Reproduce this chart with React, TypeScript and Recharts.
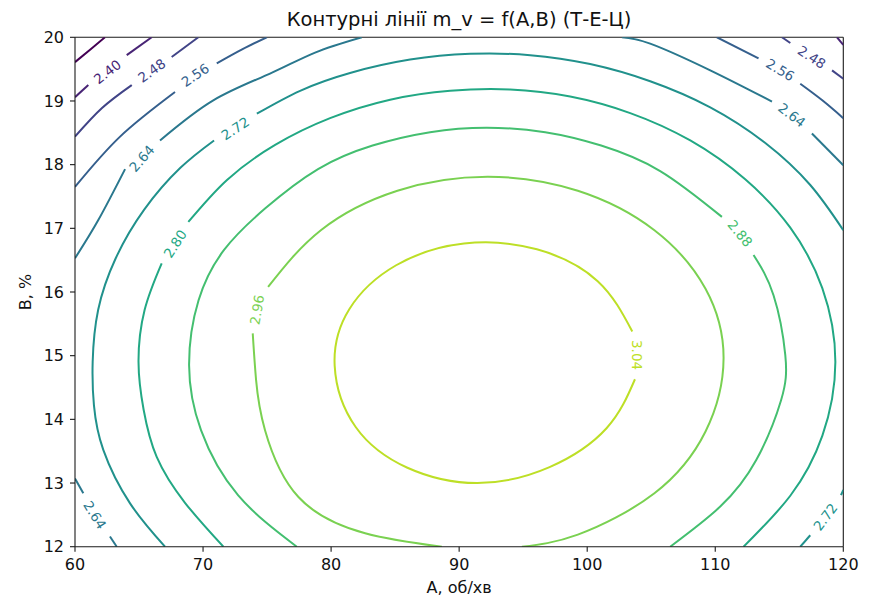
import React from 'react';
import { ComposedChart, Line, Scatter, XAxis, YAxis, ReferenceLine } from 'recharts';

type P = [number, number];

// axis ticks
const xTicks = [60, 70, 80, 90, 100, 110, 120];
const yTicks = [12, 13, 14, 15, 16, 17, 18, 19, 20];

// contour levels
const levels = [2.32, 2.4, 2.48, 2.56, 2.64, 2.72, 2.8, 2.88, 2.96, 3.04];

// contour pieces: [A, B] points
const c232: P[][] = [
  [[60, 19.61], [61.2, 19.81], [62.34, 20]],
];
const c240: P[][] = [
  [[60, 19.06], [61.04, 19.25]],
  [[64.04, 19.72], [65.99, 20]],
  [[119.51, 20], [120, 19.88]],
];
const c248: P[][] = [
  [[60, 18.44], [62.11, 18.89], [64.43, 19.25]],
  [[67.55, 19.69], [69.63, 20]],
  [[115.21, 20], [115.86, 19.91]],
  [[119.12, 19.48], [120, 19.35]],
];
const c256: P[][] = [
  [[60, 17.65], [63.52, 18.44], [67.81, 19.14]],
  [[71.07, 19.59], [73.05, 19.81], [74.98, 20]],
  [[110.13, 20], [113.38, 19.67]],
  [[116.64, 19.27], [118.36, 19.01], [120, 18.73]],
];
const c264: P[][] = [
  [[60, 16.53], [61.82, 17.13], [63.91, 17.93]],
  [[66.64, 18.38], [70.8, 19.01], [75.23, 19.43], [78.75, 19.76], [82.4, 20]],
  [[102.71, 20], [104.92, 19.9], [109.61, 19.48], [114.43, 18.99]],
  [[117.55, 18.49], [120, 17.99]],
  [[60, 13.07], [60.65, 12.84]],
  [[62.73, 12.16], [63.26, 12]],
];
const c272: P[][] = [
  [[67.03, 12], [64.3, 12.68], [62.21, 13.52], [61.48, 14.22], [61.38, 14.9], [61.81, 15.72], [63.18, 16.53], [65.39, 17.29], [68.23, 17.95], [70.86, 18.38]],
  [[74.2, 18.8], [77.58, 19.16], [81.48, 19.44], [86.17, 19.65], [90.86, 19.74], [95.55, 19.72], [100.23, 19.58], [104.92, 19.31], [109.61, 18.9], [113.91, 18.34], [117.42, 17.68], [120, 16.97]],
  [[120, 12.89], [119.82, 12.81]],
  [[117.42, 12.18], [116.64, 12]],
];
const c280: P[][] = [
  [[71.59, 12], [68.59, 12.69], [66.38, 13.41], [65.36, 14.15], [64.96, 14.9], [65.44, 15.72], [66.77, 16.45]],
  [[68.85, 17.1], [71.87, 17.76], [75.63, 18.31], [79.92, 18.73], [84.61, 19.02], [89.3, 19.16], [93.98, 19.18], [98.67, 19.07], [103.36, 18.81], [108.05, 18.38], [112.34, 17.77], [115.86, 17.01], [118.36, 16.06], [119.38, 14.9], [118.36, 13.74], [115.86, 12.8], [112.21, 12]],
];
const c288: P[][] = [
  [[106.48, 12], [110.39, 12.63], [113.2, 13.36], [115.14, 14.3], [115.47, 15.01], [114.55, 15.95], [112.99, 16.58]],
  [[110.52, 17.18], [105.7, 17.9], [101.09, 18.3], [96.72, 18.51], [92.16, 18.58], [87.73, 18.51], [83.24, 18.3], [78.98, 17.93], [74.84, 17.31], [71.64, 16.66], [69.65, 15.87], [68.91, 14.85], [69.84, 13.83], [72.73, 12.81], [77.32, 12]],
];
const c296: P[][] = [
  [[88.65, 12], [82.66, 12.21], [77.45, 12.78], [74.84, 13.83], [74.14, 14.62], [73.88, 15.35]],
  [[75.08, 16.08], [79.2, 16.97], [85.18, 17.59], [92.23, 17.81], [99.27, 17.59], [105.25, 16.97], [109.24, 16.05], [110.65, 14.96], [109.24, 13.81], [105.25, 12.84], [99.27, 12.19], [94.9, 12]],
];
const c304: P[][] = [
  [[103.52, 15.38], [100.82, 16.17], [96.07, 16.67], [90.38, 16.76], [85.08, 16.42], [81.42, 15.73], [80.28, 14.84], [81.92, 13.88], [85.96, 13.24], [91.43, 13.0], [97.06, 13.25], [101.51, 13.86], [103.73, 14.63]],
];

const contourPieces: P[][][] = [c232, c240, c248, c256, c264, c272, c280, c288, c296, c304];

// inline labels: [level, A, B]
const labelPos: [number, number, number][] = [
  [2.4, 62.52, 19.46],
  [2.48, 65.99, 19.48],
  [2.48, 117.55, 19.69],
  [2.56, 69.38, 19.41],
  [2.56, 115.08, 19.49],
  [2.64, 65.21, 18.1],
  [2.64, 115.99, 18.78],
  [2.64, 61.56, 12.5],
  [2.72, 72.5, 18.57],
  [2.72, 118.59, 12.47],
  [2.8, 67.81, 16.76],
  [2.88, 111.95, 16.92],
  [2.96, 74.2, 15.72],
  [3.04, 103.91, 15.01],
];
const labelAngle = [-38, -35, 33, -34, 31, -49, 38, 58, -33, -53, -57, 50, -80, 90];

// viridis colours for the levels
const levelColors = ['#440154', '#482475', '#414487', '#355f8d', '#2a788e', '#21918c', '#22a884', '#44bf70', '#7ad151', '#bddf26'];

const colorOf = (lvl: number) => {
  const i = levels.findIndex((l) => Math.abs(l - lvl) < 1e-6);
  return levelColors[i < 0 ? 0 : i];
};

const FONT = 'DejaVu Sans, sans-serif';
const W = 853;
const H = 592;

const labelData = labelPos.map(([level, a, b], i) => ({ a, b, level, angle: labelAngle[i] }));

function LabelShape(props: any) {
  const { cx, cy, payload } = props;
  if (cx == null || cy == null || !payload) return null;
  return (
    <text
      x={cx}
      y={cy}
      transform={`rotate(${payload.angle}, ${cx}, ${cy})`}
      textAnchor="middle"
      dominantBaseline="central"
      fontSize={13.5}
      fontFamily={FONT}
      fill={colorOf(payload.level)}
    >
      {payload.level.toFixed(2)}
    </text>
  );
}

export default function App() {
  const lines: React.ReactNode[] = [];
  contourPieces.forEach((pieces, li) => {
    pieces.forEach((seg, si) => {
      lines.push(
        <Line
          key={`c${li}-${si}`}
          data={seg.map(([a, b]) => ({ a, b }))}
          dataKey="b"
          type="natural"
          stroke={levelColors[li]}
          strokeWidth={2}
          dot={false}
          activeDot={false}
          isAnimationActive={false}
          legendType="none"
        />
      );
    });
  });

  return (
    <div style={{ position: 'relative', width: W, height: H, fontFamily: FONT }}>
      <ComposedChart width={W} height={H} margin={{ top: 29.3, right: 17.7, bottom: 0, left: 0 }}>
        <XAxis
          type="number"
          dataKey="a"
          domain={[60, 120]}
          ticks={xTicks}
          allowDataOverflow
          height={53.3}
          tickSize={5}
          tickMargin={7}
          tick={{ fontSize: 16, fill: '#111', fontFamily: FONT }}
          axisLine={{ stroke: '#1a1a1a', strokeWidth: 1.1 }}
          tickLine={{ stroke: '#1a1a1a', strokeWidth: 1.1 }}
          label={{ value: 'A, об/хв', position: 'insideBottom', offset: 7, fontSize: 16, fill: '#111', fontFamily: FONT }}
        />
        <YAxis
          type="number"
          dataKey="b"
          domain={[12, 20]}
          ticks={yTicks}
          allowDataOverflow
          width={67}
          tickSize={5}
          tickMargin={6}
          tick={{ fontSize: 16, fill: '#111', fontFamily: FONT }}
          axisLine={{ stroke: '#1a1a1a', strokeWidth: 1.1 }}
          tickLine={{ stroke: '#1a1a1a', strokeWidth: 1.1 }}
          label={{ value: 'B, %', angle: -90, position: 'insideLeft', offset: 17, fontSize: 16, fill: '#111', fontFamily: FONT, style: { textAnchor: 'middle' } }}
        />
        <ReferenceLine y={20} stroke="#1a1a1a" strokeWidth={1.1} />
        <ReferenceLine x={120} stroke="#1a1a1a" strokeWidth={1.1} />
        {lines}
        <Scatter data={labelData} dataKey="b" shape={LabelShape} isAnimationActive={false} legendType="none" />
      </ComposedChart>
      <svg width={W} height={40} style={{ position: 'absolute', left: 0, top: 0, pointerEvents: 'none' }}>
        <text x={451} y={17.5} textAnchor="middle" fontSize={19.5} fontFamily={FONT} fill="#111">
          Контурні лінії m_v = f(A,B) (Т-Е-Ц)
        </text>
      </svg>
    </div>
  );
}
